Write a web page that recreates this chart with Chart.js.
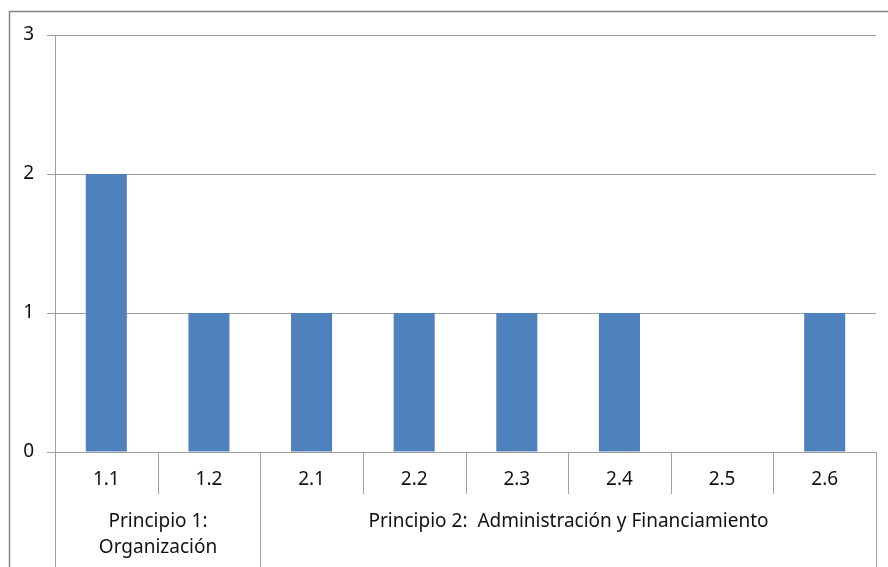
<!DOCTYPE html>
<html>
<head>
<meta charset="utf-8">
<script src="https://cdn.jsdelivr.net/npm/chart.js@4"></script>
<style>
  html, body { margin: 0; padding: 0; background: #fff; }
  #wrap { width: 888px; height: 567px; position: relative; }
</style>
</head>
<body>
<div id="wrap"><canvas id="chart" width="888" height="567"></canvas></div>
<script>
  // --- data ---
  const categories = ["1.1", "1.2", "2.1", "2.2", "2.3", "2.4", "2.5", "2.6"];
  const counts = [2, 1, 1, 1, 1, 1, 0, 1];
  const groups = [
    { lines: ["Principio 1:", "Organización"], from: 0, to: 1 },
    { lines: ["Principio 2:  Administración y Financiamiento"], from: 2, to: 7 }
  ];

  const FAMILY = "'Noto Sans', 'Liberation Sans', sans-serif";
  const FONT = "19px " + FAMILY;
  const TEXT = "#111";
  const LINE = "#a0a0a0";

  // frame + two-level category axis
  const axisPlugin = {
    id: "groupAxis",
    beforeDraw(chart) {
      const ctx = chart.ctx;
      ctx.save();
      ctx.strokeStyle = "#868686";
      ctx.lineWidth = 1.5;
      ctx.strokeRect(9.5, 11.5, chart.width + 20, chart.height + 20);
      ctx.restore();
    },
    afterDraw(chart) {
      const ctx = chart.ctx;
      const x = chart.scales.x;
      const area = chart.chartArea;
      const half = (x.getPixelForValue(1) - x.getPixelForValue(0)) / 2;
      const edge = (i) => Math.round(x.getPixelForValue(i) - half) + 0.5;

      ctx.save();
      ctx.strokeStyle = LINE;
      ctx.lineWidth = 1;
      // short separators between categories
      for (let i = 1; i < categories.length; i++) {
        ctx.beginPath();
        ctx.moveTo(edge(i), area.bottom);
        ctx.lineTo(edge(i), area.bottom + 42);
        ctx.stroke();
      }
      // long separators at group bounds
      const bounds = [0];
      groups.forEach((g) => bounds.push(g.to + 1));
      bounds.forEach((b) => {
        ctx.beginPath();
        ctx.moveTo(edge(b), area.bottom);
        ctx.lineTo(edge(b), chart.height);
        ctx.stroke();
      });

      ctx.fillStyle = TEXT;
      ctx.font = FONT;
      ctx.textAlign = "center";
      ctx.textBaseline = "middle";
      categories.forEach((c, i) => {
        ctx.fillText(c, x.getPixelForValue(i), area.bottom + 28);
      });
      groups.forEach((g) => {
        const cx = (edge(g.from) + edge(g.to + 1)) / 2;
        g.lines.forEach((t, k) => {
          ctx.fillText(t, cx, area.bottom + 70 + k * 26);
        });
      });
      ctx.restore();
    }
  };

  new Chart(document.getElementById("chart"), {
    type: "bar",
    data: {
      labels: categories,
      datasets: [{
        data: counts,
        backgroundColor: "#4f81bd",
        borderWidth: 0,
        categoryPercentage: 1,
        barPercentage: 0.4
      }]
    },
    options: {
      responsive: false,
      animation: false,
      layout: { padding: { top: 35, right: 12, left: 0, bottom: 0 } },
      plugins: { legend: { display: false }, tooltip: { enabled: false } },
      scales: {
        x: {
          ticks: { display: false },
          grid: { display: false },
          border: { display: false },
          afterFit(s) { s.height = 115; }
        },
        y: {
          min: 0,
          max: 3,
          ticks: {
            stepSize: 1,
            color: TEXT,
            padding: 13,
            font: { family: FAMILY, size: 19 }
          },
          grid: { color: LINE, tickLength: 8, lineWidth: 1 },
          border: { color: LINE },
          afterFit(s) { s.width = 55; }
        }
      }
    },
    plugins: [axisPlugin]
  });
</script>
</body>
</html>
